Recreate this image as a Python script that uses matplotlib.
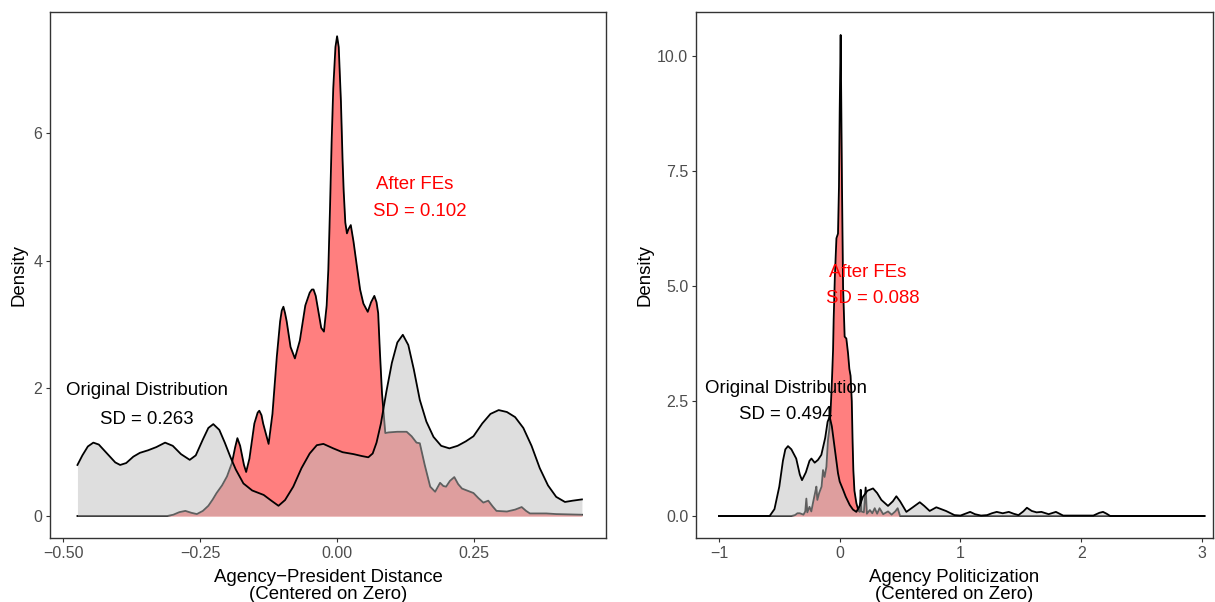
import matplotlib
matplotlib.use("Agg")
from matplotlib import pyplot as plt

plt.rcParams['font.family'] = ['Liberation Sans', 'DejaVu Sans']

# ---- left panel: agency-president distance (curve points)
dist_orig_x = [-0.474, -0.465, -0.455, -0.445, -0.435, -0.420, -0.405, -0.396, -0.385, -0.372,
               -0.360, -0.345, -0.330, -0.314, -0.300, -0.285, -0.269, -0.258, -0.245, -0.235,
               -0.226, -0.215, -0.205, -0.195, -0.185, -0.171, -0.155, -0.134, -0.120, -0.107,
               -0.095, -0.080, -0.065, -0.050, -0.037, -0.025, -0.007, 0.010, 0.030, 0.045,
               0.057, 0.065, 0.072, 0.080, 0.090, 0.100, 0.110, 0.120, 0.130, 0.140,
               0.151, 0.163, 0.176, 0.190, 0.205, 0.220, 0.235, 0.249, 0.265, 0.280,
               0.295, 0.310, 0.325, 0.340, 0.355, 0.370, 0.385, 0.400, 0.416, 0.430, 0.447]
dist_orig_y = [0.80, 0.95, 1.09, 1.15, 1.12, 0.98, 0.84, 0.80, 0.83, 0.93,
               0.99, 1.03, 1.08, 1.15, 1.10, 0.97, 0.88, 0.95, 1.20, 1.38,
               1.44, 1.35, 1.15, 0.93, 0.73, 0.51, 0.40, 0.33, 0.24, 0.16,
               0.25, 0.46, 0.75, 0.98, 1.11, 1.13, 1.06, 1.00, 0.97, 0.94,
               0.92, 0.98, 1.15, 1.45, 1.95, 2.40, 2.72, 2.84, 2.68, 2.30,
               1.82, 1.48, 1.24, 1.10, 1.06, 1.10, 1.17, 1.25, 1.45, 1.60,
               1.66, 1.63, 1.55, 1.38, 1.10, 0.75, 0.48, 0.30, 0.22, 0.24, 0.26]

dist_fe_x = [-0.474, -0.310, -0.299, -0.288, -0.277, -0.266, -0.256, -0.245, -0.235, -0.227,
             -0.220, -0.210, -0.201, -0.192, -0.186, -0.182, -0.177, -0.170, -0.166, -0.160,
             -0.151, -0.145, -0.142, -0.138, -0.135, -0.125, -0.118, -0.110, -0.104, -0.101,
             -0.098, -0.095, -0.092, -0.085, -0.077, -0.068, -0.058, -0.050, -0.046, -0.043,
             -0.039, -0.036, -0.029, -0.024, -0.019, -0.016, -0.013, -0.010, -0.007, -0.003,
             0.000, 0.003, 0.007, 0.010, 0.012, 0.015, 0.018, 0.021, 0.025, 0.030,
             0.037, 0.042, 0.048, 0.056, 0.062, 0.068, 0.072, 0.075, 0.078, 0.082,
             0.088, 0.094, 0.110, 0.127, 0.136, 0.145, 0.151, 0.160, 0.170, 0.179,
             0.188, 0.194, 0.199, 0.206, 0.214, 0.221, 0.228, 0.240, 0.249, 0.258,
             0.267, 0.276, 0.284, 0.291, 0.310, 0.325, 0.337, 0.345, 0.352, 0.382,
             0.400, 0.447]
dist_fe_y = [0.00, 0.00, 0.02, 0.06, 0.08, 0.05, 0.03, 0.08, 0.16, 0.26,
             0.36, 0.48, 0.62, 0.83, 1.08, 1.22, 1.10, 0.80, 0.69, 0.90,
             1.45, 1.62, 1.65, 1.58, 1.45, 1.13, 1.60, 2.50, 3.05, 3.22,
             3.28, 3.18, 3.05, 2.65, 2.47, 2.75, 3.30, 3.50, 3.55, 3.55,
             3.45, 3.30, 2.95, 2.89, 3.30, 3.86, 4.80, 5.85, 6.70, 7.35,
             7.52, 7.35, 6.50, 5.58, 5.10, 4.60, 4.43, 4.50, 4.56, 4.30,
             3.86, 3.55, 3.33, 3.20, 3.35, 3.45, 3.35, 3.18, 2.60, 1.92,
             1.30, 1.31, 1.32, 1.32, 1.25, 1.15, 1.14, 0.80, 0.46, 0.38,
             0.52, 0.47, 0.46, 0.55, 0.61, 0.50, 0.43, 0.39, 0.36, 0.28,
             0.21, 0.24, 0.15, 0.08, 0.07, 0.10, 0.14, 0.08, 0.04, 0.04,
             0.03, 0.02]

# ---- right panel: agency politicization
pol_orig_x = [-1.00, -0.58, -0.54, -0.50, -0.47, -0.45, -0.428, -0.40, -0.36, -0.33,
              -0.312, -0.28, -0.25, -0.234, -0.207, -0.18, -0.152, -0.12, -0.10, -0.083,
              -0.065, -0.05, -0.03, -0.014, 0.00, 0.028, 0.05, 0.083, 0.11, 0.138,
              0.165, 0.193, 0.23, 0.276, 0.31, 0.345, 0.40, 0.44, 0.469, 0.50,
              0.552, 0.60, 0.663, 0.70, 0.745, 0.80, 0.88, 0.95, 1.00, 1.05,
              1.08, 1.12, 1.17, 1.22, 1.26, 1.30, 1.35, 1.40, 1.44, 1.48,
              1.52, 1.55, 1.59, 1.63, 1.67, 1.73, 1.79, 1.85, 2.10, 2.15,
              2.18, 2.21, 2.24, 3.02]
pol_orig_y = [0.00, 0.00, 0.15, 0.64, 1.20, 1.45, 1.52, 1.45, 1.25, 0.90,
              0.78, 0.95, 1.20, 1.25, 1.16, 1.22, 1.33, 1.70, 2.05, 2.16,
              1.95, 1.65, 1.25, 0.93, 0.75, 0.57, 0.42, 0.24, 0.14, 0.09,
              0.22, 0.42, 0.55, 0.60, 0.50, 0.35, 0.22, 0.32, 0.43, 0.32,
              0.09, 0.18, 0.30, 0.22, 0.11, 0.19, 0.11, 0.02, 0.01, 0.06,
              0.09, 0.04, 0.01, 0.02, 0.06, 0.09, 0.06, 0.09, 0.05, 0.02,
              0.10, 0.18, 0.11, 0.08, 0.09, 0.04, 0.09, 0.01, 0.01, 0.07,
              0.09, 0.05, 0.00, 0.00]

pol_fe_x = [-1.00, -0.40, -0.37, -0.35, -0.33, -0.30, -0.285, -0.276, -0.268, -0.25,
            -0.235, -0.22, -0.20, -0.193, -0.185, -0.17, -0.15, -0.138, -0.125, -0.11,
            -0.097, -0.085, -0.075, -0.064, -0.055, -0.05, -0.04, -0.027, -0.014, -0.006,
            0.000, 0.008, 0.013, 0.019, 0.028, 0.041, 0.055, 0.069, 0.080, 0.090,
            0.100, 0.107, 0.113, 0.122, 0.138, 0.155, 0.166, 0.174, 0.180, 0.200,
            0.215, 0.225, 0.25, 0.27, 0.29, 0.31, 0.33, 0.36, 0.40, 0.43,
            0.46, 0.48, 0.50, 3.02]
pol_fe_y = [0.00, 0.00, 0.02, 0.06, 0.06, 0.03, 0.10, 0.38, 0.08, 0.20,
            0.10, 0.30, 0.55, 0.64, 0.35, 0.50, 0.64, 1.00, 0.85, 1.07,
            1.65, 1.90, 2.30, 2.96, 3.60, 4.26, 5.20, 6.04, 6.14, 7.16,
            8.80, 10.46, 9.00, 7.16, 4.98, 3.90, 3.86, 3.54, 3.20, 3.05,
            2.50, 1.60, 1.00, 0.55, 0.28, 0.12, 0.09, 0.57, 0.10, 0.08,
            0.62, 0.05, 0.13, 0.06, 0.17, 0.05, 0.17, 0.04, 0.10, 0.03,
            0.10, 0.17, 0.00, 0.00]

fig = plt.figure(figsize=(12.15, 6.02), dpi=100)
axl = fig.add_axes([0.0412, 0.1063, 0.4576, 0.8738])
axr = fig.add_axes([0.5728, 0.1063, 0.4255, 0.8738])


def draw_panel(ax, ox, oy, fx, fy):
    ax.fill_between(fx, 0, fy, color="red", alpha=0.5, lw=0, zorder=1)
    ax.plot(fx, fy, color="black", lw=1.3, zorder=2)
    ax.fill_between(ox, 0, oy, color="#BEBEBE", alpha=0.5, lw=0, zorder=3)
    ax.plot(ox, oy, color="black", lw=1.3, zorder=4)
    for sp in ax.spines.values():
        sp.set_color("#333333")
        sp.set_linewidth(1.0)
    ax.tick_params(direction="out", length=3, width=0.8, color="#333333",
                   labelcolor="#4D4D4D", labelsize=11.5, pad=2.5)
    ax.set_ylabel("Density", fontsize=13.4)


draw_panel(axl, dist_orig_x, dist_orig_y, dist_fe_x, dist_fe_y)
axl.set_xlim(-0.524, 0.491)
axl.set_ylim(-0.345, 7.9)
axl.set_xticks([-0.5, -0.25, 0.0, 0.25])
axl.set_xticklabels(["\u22120.50", "\u22120.25", "0.00", "0.25"])
axl.set_yticks([0, 2, 4, 6])
axl.set_yticklabels(["0", "2", "4", "6"])
axl.set_xlabel("Agency\u2212President Distance\n(Centered on Zero)", fontsize=13.4,
               linespacing=1.05)
axl.xaxis.set_label_coords(0.5, -0.058)
axl.yaxis.set_label_coords(-0.040, 0.5)
axl.text(-0.347, 1.96, "Original Distribution", ha="center", va="center", fontsize=13.4, zorder=6)
axl.text(-0.347, 1.52, "SD = 0.263", ha="center", va="center", fontsize=13.4, zorder=6)
axl.text(0.142, 5.20, "After FEs", ha="center", va="center", fontsize=13.4, color="red", zorder=6)
axl.text(0.151, 4.78, "SD = 0.102", ha="center", va="center", fontsize=13.4, color="red", zorder=6)

draw_panel(axr, pol_orig_x, pol_orig_y, pol_fe_x, pol_fe_y)
axr.set_xlim(-1.19, 3.09)
axr.set_ylim(-0.478, 10.96)
axr.set_xticks([-1, 0, 1, 2, 3])
axr.set_xticklabels(["\u22121", "0", "1", "2", "3"])
axr.set_yticks([0, 2.5, 5, 7.5, 10])
axr.set_yticklabels(["0.0", "2.5", "5.0", "7.5", "10.0"])
axr.set_xlabel("Agency Politicization\n(Centered on Zero)", fontsize=13.4, linespacing=1.05)
axr.xaxis.set_label_coords(0.5, -0.058)
axr.yaxis.set_label_coords(-0.083, 0.5)
axr.text(-0.447, 2.78, "Original Distribution", ha="center", va="center", fontsize=13.4, zorder=6)
axr.text(-0.443, 2.20, "SD = 0.494", ha="center", va="center", fontsize=13.4, zorder=6)
axr.text(0.232, 5.30, "After FEs", ha="center", va="center", fontsize=13.4, color="red", zorder=6)
axr.text(0.277, 4.74, "SD = 0.088", ha="center", va="center", fontsize=13.4, color="red", zorder=6)

plt.savefig("out.png", dpi=100)
